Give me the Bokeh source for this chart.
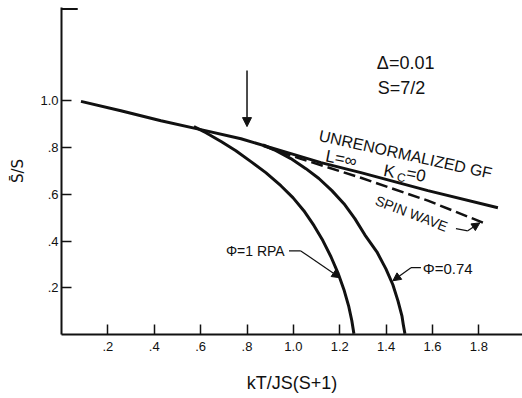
from bokeh.plotting import figure
from bokeh.models import Label, Arrow, NormalHead, FixedTicker, Range1d
from bokeh.embed import file_html
from bokeh.resources import INLINE

# ---- data ----
gf_x = [0.084, 0.256, 0.429, 0.601, 0.774, 0.903, 1.119, 1.291, 1.580, 1.882]
gf_y = [0.998, 0.958, 0.915, 0.877, 0.838, 0.800, 0.736, 0.693, 0.616, 0.543]

rpa_x = [0.571, 0.623, 0.690, 0.752, 0.817, 0.881, 0.946, 0.998, 1.045,
         1.089, 1.127, 1.162, 1.192, 1.218, 1.239, 1.252, 1.261]
rpa_y = [0.890, 0.864, 0.825, 0.787, 0.740, 0.693, 0.637, 0.586, 0.530,
         0.466, 0.402, 0.333, 0.264, 0.192, 0.119, 0.059, 0.003]

phi074_x = [0.869, 0.925, 0.989, 1.054, 1.110, 1.166, 1.218, 1.265, 1.308,
            1.360, 1.399, 1.429, 1.451, 1.468, 1.474, 1.481]
phi074_y = [0.812, 0.787, 0.753, 0.710, 0.668, 0.616, 0.560, 0.496, 0.427,
            0.354, 0.281, 0.213, 0.144, 0.080, 0.042, 0.003]

sw_x = [0.869, 1.032, 1.291, 1.580, 1.830]
sw_y = [0.808, 0.752, 0.671, 0.573, 0.474]

x_ticks = [0.2, 0.4, 0.6, 0.8, 1.0, 1.2, 1.4, 1.6, 1.8]
x_tick_labels = [".2", ".4", ".6", ".8", "1.0", "1.2", "1.4", "1.6", "1.8"]
y_ticks = [0.2, 0.4, 0.6, 0.8, 1.0]
y_tick_labels = [".2", ".4", ".6", ".8", "1.0"]

# annotation anchors
tc_arrow = (0.8, 1.13, 0.8, 0.89)
rpa_leader_x = [0.981, 1.032, 1.201]
rpa_leader_y = [0.358, 0.358, 0.243]
p74_leader_x = [1.550, 1.507, 1.429]
p74_leader_y = [0.286, 0.286, 0.230]
sw_leader_x = [1.701, 1.752, 1.804]
sw_leader_y = [0.453, 0.444, 0.478]
top_cap_x = [0.0, 0.07]
top_cap_y = [1.394, 1.394]

FONT = "Liberation Sans"
INK = "#111111"

p = figure(width=522, height=398, output_backend="svg", toolbar_location=None,
           x_range=Range1d(0, 1.988), y_range=Range1d(0, 1.400),
           min_border_left=61, min_border_right=0, min_border_top=7,
           min_border_bottom=64)
p.outline_line_color = None
p.xgrid.visible = False
p.ygrid.visible = False
p.background_fill_color = "white"
p.border_fill_color = "white"

for ax in (p.xaxis[0], p.yaxis[0]):
    ax.axis_line_width = 2
    ax.axis_line_color = INK
    ax.major_tick_in = 10
    ax.major_tick_out = 0
    ax.major_tick_line_width = 1.5
    ax.major_tick_line_color = INK
    ax.minor_tick_line_color = None
    ax.major_label_text_font = FONT
    ax.major_label_text_font_size = "13px"
    ax.major_label_text_color = INK
    ax.axis_label_text_font = FONT
    ax.axis_label_text_font_style = "normal"
    ax.axis_label_text_color = INK

p.xaxis.ticker = FixedTicker(ticks=x_ticks)
p.xaxis.major_label_overrides = dict(zip(x_ticks, x_tick_labels))
p.yaxis.ticker = FixedTicker(ticks=y_ticks)
p.yaxis.major_label_overrides = dict(zip(y_ticks, y_tick_labels))
p.xaxis.major_label_standoff = 7
p.yaxis.major_label_standoff = 3
p.xaxis.axis_label = "kT/JS(S+1)"
p.xaxis.axis_label_text_font_size = "18px"
p.xaxis.axis_label_standoff = 19
p.yaxis.axis_label = "S\u0304/S"
p.yaxis.axis_label_text_font = "DejaVu Sans"
p.yaxis.axis_label_text_font_size = "15px"
p.yaxis.axis_label_standoff = 10

p.line(top_cap_x, top_cap_y, line_width=2, line_color=INK)

p.line(gf_x, gf_y, line_width=3, line_color=INK)
p.line(rpa_x, rpa_y, line_width=3, line_color=INK, line_join="round")
p.line(phi074_x, phi074_y, line_width=3, line_color=INK, line_join="round")
p.line(sw_x, sw_y, line_width=2.5, line_color=INK, line_dash="12 5")

# leader lines
for lx, ly in ((rpa_leader_x, rpa_leader_y), (p74_leader_x, p74_leader_y),
               (sw_leader_x, sw_leader_y)):
    p.line(lx[:-1], ly[:-1], line_width=1.2, line_color=INK)
    p.add_layout(Arrow(end=NormalHead(size=8, fill_color=INK, line_color=INK),
                       x_start=lx[-2], y_start=ly[-2], x_end=lx[-1], y_end=ly[-1],
                       line_width=1.2, line_color=INK))

p.add_layout(Arrow(end=NormalHead(size=9, fill_color=INK, line_color=INK),
                   x_start=tc_arrow[0], y_start=tc_arrow[1],
                   x_end=tc_arrow[2], y_end=tc_arrow[3],
                   line_width=1.5, line_color=INK))

def lab(x, y, text, size, angle=0.0):
    p.add_layout(Label(x=x, y=y, text=text, angle=angle, text_font=FONT,
                       text_font_size=size, text_color=INK,
                       text_baseline="middle", text_align="left"))

lab(1.360, 1.164, "\u0394=0.01", "18px")
lab(1.364, 1.054, "S=7/2", "18px")
lab(1.111, 0.853, "UNRENORMALIZED GF", "16px", -0.218)
lab(1.140, 0.765, "L=\u221e", "17px", -0.19)
lab(1.390, 0.703, "K", "17px", -0.19)
lab(1.447, 0.675, "C", "12px", -0.19)
lab(1.488, 0.692, "=0", "17px", -0.19)
lab(1.356, 0.577, "SPIN WAVE", "14px", -0.367)
lab(0.709, 0.358, "\u03a6=1 RPA", "14px")
lab(1.558, 0.281, "\u03a6=0.74", "15px")

open("out.html", "w").write(file_html(p, INLINE))
